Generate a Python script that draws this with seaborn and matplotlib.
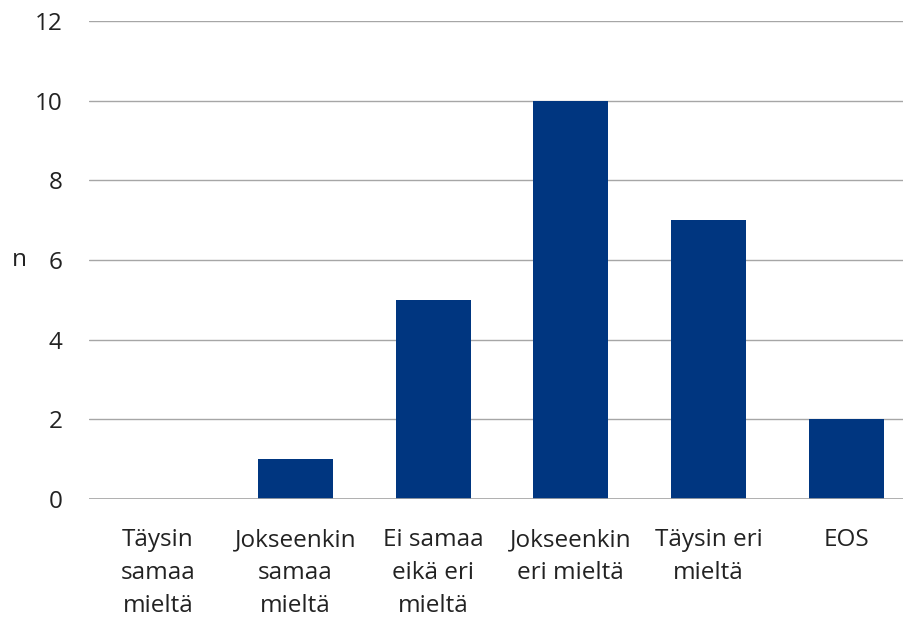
import matplotlib
matplotlib.use("Agg")
import matplotlib.pyplot as plt
import seaborn as sns
import pandas as pd

categories = ["Täysin\nsamaa\nmieltä", "Jokseenkin\nsamaa\nmieltä", "Ei samaa\neikä eri\nmieltä",
              "Jokseenkin\neri mieltä", "Täysin eri\nmieltä", "EOS"]
counts = [0, 1, 5, 10, 7, 2]
y_ticks = [0, 2, 4, 6, 8, 10, 12]

df = pd.DataFrame({"cat": categories, "n": counts})

sns.set_theme(style="white")
plt.rcParams["font.family"] = ["Open Sans", "DejaVu Sans"]

fig = plt.figure(figsize=(9.04, 6.21), dpi=100)
ax = fig.add_axes([89 / 904, 122 / 621, 826 / 904, 478 / 621])

sns.barplot(data=df, x="cat", y="n", color="#003680", saturation=1, width=0.545,
            linewidth=0, ax=ax)

ax.set_ylim(0, 12)
ax.set_yticks(y_ticks)
ax.yaxis.grid(True, color="#a6a6a6", linewidth=1)
ax.set_axisbelow(True)
for s in ax.spines.values():
    s.set_visible(False)
ax.axhline(0, color="#a6a6a6", linewidth=1.2, zorder=3)

fs = 17.5
ax.tick_params(axis="both", length=0, labelsize=fs, colors="#222222")
ax.tick_params(axis="y", pad=19)
ax.tick_params(axis="x", pad=21)
ax.set_xlabel("")
ax.set_ylabel("n", rotation=0, fontsize=fs, color="#222222", labelpad=11, va="center")
for lab in ax.get_xticklabels():
    lab.set_linespacing(1.5)

fig.savefig("out.png", dpi=100)
